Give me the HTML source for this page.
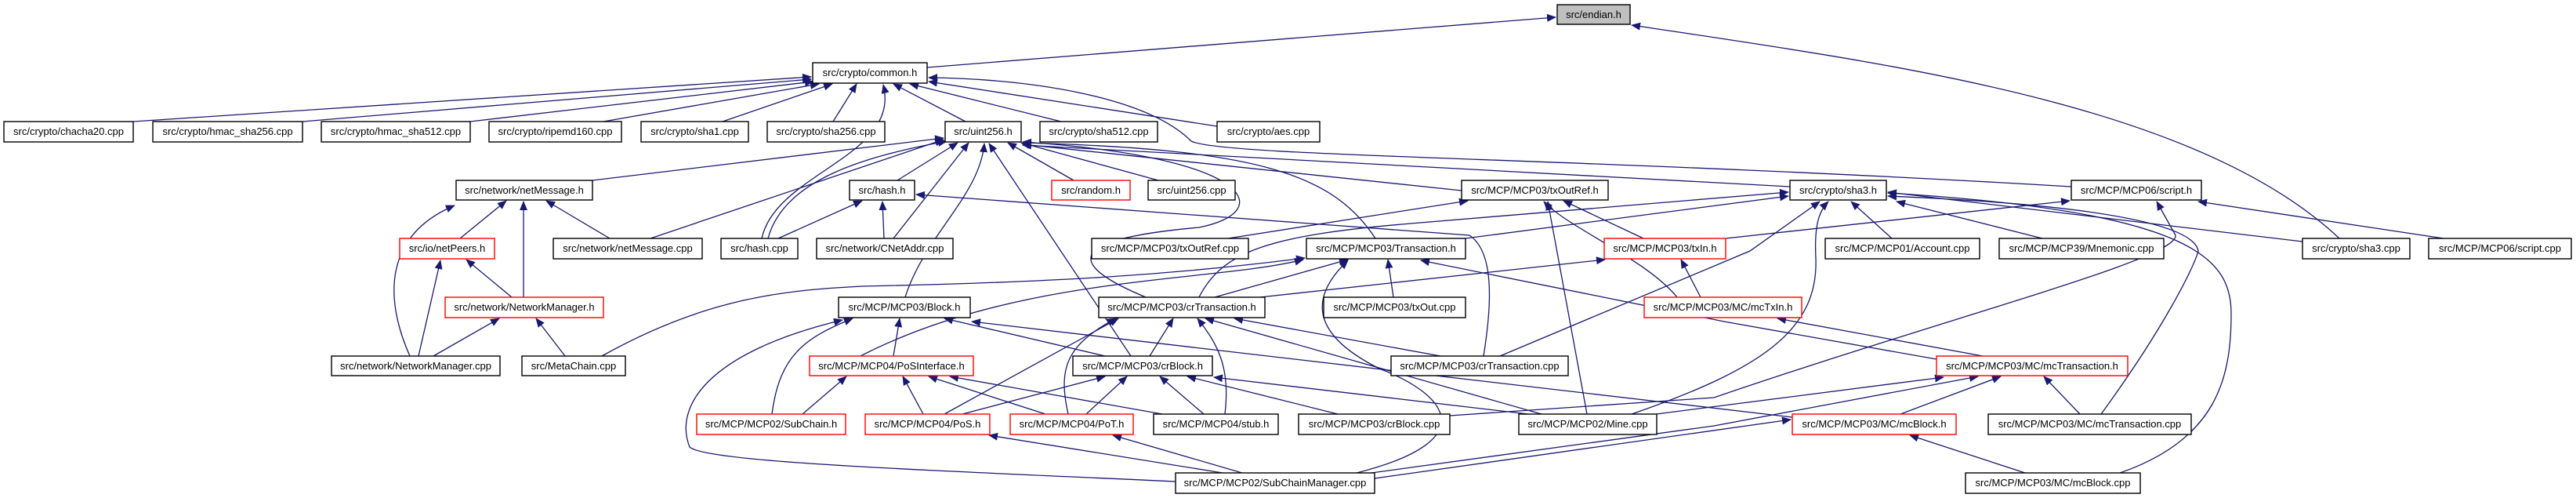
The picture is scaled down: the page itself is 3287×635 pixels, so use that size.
<!DOCTYPE html>
<html><head><meta charset="utf-8">
<style>
html,body{margin:0;padding:0;background:#fff;}
svg{display:block;}
text{font-family:"Liberation Sans",Arial,sans-serif;font-size:13px;fill:#000;}
.e{fill:none;stroke:#191970;stroke-width:1.3;marker-end:url(#a);}
.n{fill:#fff;stroke:#000;stroke-width:1.4;}
.r{fill:#fff;stroke:#ff0000;stroke-width:1.4;}
.s{fill:none;stroke:#555;stroke-width:1.5;}
</style></head><body>
<svg width="3287" height="635" viewBox="0 0 3287 635" xmlns="http://www.w3.org/2000/svg">
<defs><marker id="a" markerWidth="12" markerHeight="10" refX="11" refY="5" orient="auto" markerUnits="userSpaceOnUse"><path d="M0,0 L12,5 L0,10 z" fill="#191970"/></marker></defs>
<g>
<path class="e" d="M1183 86 L1985 22"/>
<path class="e" d="M2985 304 C2800 130 2400 80 2082 32"/>
<path class="e" d="M170 155 L1035 98"/>
<path class="e" d="M386 155 L1035 101"/>
<path class="e" d="M600 155 L1038 104"/>
<path class="e" d="M770 155 L1045 107"/>
<path class="e" d="M922 155 L1062 107"/>
<path class="e" d="M1063 155 L1093 107"/>
<path class="e" d="M1232 155 L1140 107"/>
<path class="e" d="M1354 155 L1161 107"/>
<path class="e" d="M1553 161 L1185 104"/>
<path class="e" d="M972 304 C990 220 1150 200 1127 108"/>
<path class="e" d="M2643 238 C2000 200 1560 200 1520 180 C1460 120 1300 100 1185 99"/>
<path class="e" d="M756 230 L1204 176"/>
<path class="e" d="M830 304 L1204 178"/>
<path class="e" d="M980 304 C1000 230 1100 200 1208 180"/>
<path class="e" d="M1145 230 L1222 182"/>
<path class="e" d="M1140 304 L1236 182"/>
<path class="e" d="M1155 379 C1180 300 1250 250 1256 183"/>
<path class="e" d="M1443 454 L1262 183"/>
<path class="e" d="M1370 230 L1286 182"/>
<path class="e" d="M1478 230 L1303 182"/>
<path class="e" d="M1462 379 C1320 320 1420 300 1530 290 C1630 270 1600 200 1305 181"/>
<path class="e" d="M1755 304 C1700 220 1600 190 1305 182"/>
<path class="e" d="M1865 243 L1305 184"/>
<path class="e" d="M2284 238 L1305 185"/>
<path class="e" d="M587 304 L646 256"/>
<path class="e" d="M668 379 L668 257"/>
<path class="e" d="M778 304 L697 256"/>
<path class="e" d="M523 454 C490 380 490 300 580 262"/>
<path class="e" d="M653 379 L595 331"/>
<path class="e" d="M534 454 L562 332"/>
<path class="e" d="M553 454 L637 406"/>
<path class="e" d="M721 454 L684 406"/>
<path class="e" d="M993 304 L1100 256"/>
<path class="e" d="M1128 304 L1126 257"/>
<path class="e" d="M1893 454 C1905 380 1905 320 1875 300 L1169 248"/>
<path class="e" d="M1567 304 L1873 256"/>
<path class="e" d="M2025 528 L1975 257"/>
<path class="e" d="M2140 379 C2100 330 2000 290 1970 257"/>
<path class="e" d="M2097 304 L1995 256"/>
<path class="e" d="M1530 379 C1560 320 1620 300 1800 285 L2282 245"/>
<path class="e" d="M1870 304 L2282 250"/>
<path class="e" d="M1914 454 L2233 320 L2322 257"/>
<path class="e" d="M2082 528 C2250 470 2320 420 2317 330 C2315 290 2320 270 2333 257"/>
<path class="e" d="M2414 304 L2362 257"/>
<path class="e" d="M2606 304 L2420 257"/>
<path class="e" d="M2938 308 L2409 245"/>
<path class="e" d="M2681 528 C2760 420 2800 340 2805 320 C2800 290 2700 262 2409 250"/>
<path class="e" d="M2705 603 C2830 560 2847 480 2847 400 C2847 330 2800 270 2409 246"/>
<path class="e" d="M2202 304 L2641 256"/>
<path class="e" d="M3118 304 L2805 257"/>
<path class="e" d="M1850 530 L2187 507 C2500 400 2780 330 2776 300 L2752 257"/>
<path class="e" d="M1550 379 L1720 331"/>
<path class="e" d="M1778 379 L1771 331"/>
<path class="e" d="M1098 454 C1300 350 1550 360 1663 331"/>
<path class="e" d="M768 454 C900 380 1000 370 1100 365 C1350 360 1500 350 1665 329"/>
<path class="e" d="M1731 603 C1900 560 1840 500 1760 470 C1660 420 1680 370 1720 332"/>
<path class="e" d="M2471 458 L2200 410 L1813 332"/>
<path class="e" d="M2170 379 L2145 331"/>
<path class="e" d="M1608 379 L2048 331"/>
<path class="e" d="M2530 454 L2268 406"/>
<path class="e" d="M1140 454 L1148 406"/>
<path class="e" d="M1410 454 L1205 406"/>
<path class="e" d="M985 528 C995 450 1030 430 1088 406"/>
<path class="e" d="M1500 614 C1200 600 900 590 880 570 C860 520 900 450 1075 408"/>
<path class="e" d="M2287 532 L1240 410"/>
<path class="e" d="M1467 454 L1497 406"/>
<path class="e" d="M1205 528 L1427 406"/>
<path class="e" d="M1363 528 C1350 470 1360 440 1424 406"/>
<path class="e" d="M1563 528 C1570 470 1555 440 1528 406"/>
<path class="e" d="M1967 528 L1538 406"/>
<path class="e" d="M1838 454 L1575 406"/>
<path class="e" d="M1024 528 L1080 480"/>
<path class="e" d="M1178 528 L1152 480"/>
<path class="e" d="M1334 528 L1185 480"/>
<path class="e" d="M1483 528 L1212 480"/>
<path class="e" d="M1228 528 L1410 480"/>
<path class="e" d="M1386 528 L1438 480"/>
<path class="e" d="M1536 528 L1480 480"/>
<path class="e" d="M1707 528 L1515 480"/>
<path class="e" d="M1967 530 L1549 481"/>
<path class="e" d="M2425 528 L2553 480"/>
<path class="e" d="M2654 528 L2608 480"/>
<path class="e" d="M1750 603 L2187 543 L2524 480"/>
<path class="e" d="M2082 532 L2480 481"/>
<path class="e" d="M2584 603 L2437 555"/>
<path class="e" d="M1754 610 L2285 535"/>
<path class="e" d="M1560 603 L1262 555"/>
<path class="e" d="M1585 603 L1420 555"/>
</g>
<g>
<rect x="1987" y="6" width="93" height="25" fill="#bfbfbf" stroke="#000" stroke-width="1.4"/><text x="2033.5" y="23" text-anchor="middle">src/endian.h</text>
<rect class="n" x="1037" y="80" width="146" height="26"/><text x="1110" y="97" text-anchor="middle">src/crypto/common.h</text>
<rect class="n" x="5" y="155" width="165" height="26"/><text x="87.5" y="172" text-anchor="middle">src/crypto/chacha20.cpp</text>
<rect class="n" x="195" y="155" width="191" height="26"/><text x="290.5" y="172" text-anchor="middle">src/crypto/hmac_sha256.cpp</text>
<rect class="n" x="410" y="155" width="190" height="26"/><text x="505" y="172" text-anchor="middle">src/crypto/hmac_sha512.cpp</text>
<rect class="n" x="624" y="155" width="169" height="26"/><text x="708.5" y="172" text-anchor="middle">src/crypto/ripemd160.cpp</text>
<rect class="n" x="818" y="155" width="137" height="26"/><text x="886.5" y="172" text-anchor="middle">src/crypto/sha1.cpp</text>
<rect class="n" x="979" y="155" width="150" height="26"/><text x="1054" y="172" text-anchor="middle">src/crypto/sha256.cpp</text>
<rect class="n" x="1206" y="155" width="97" height="26"/><text x="1254.5" y="172" text-anchor="middle">src/uint256.h</text>
<rect class="n" x="1327" y="155" width="150" height="26"/><text x="1402" y="172" text-anchor="middle">src/crypto/sha512.cpp</text>
<rect class="n" x="1553" y="155" width="131" height="26"/><text x="1618.5" y="172" text-anchor="middle">src/crypto/aes.cpp</text>

<rect class="n" x="582" y="230" width="174" height="25"/><text x="669" y="247" text-anchor="middle">src/network/netMessage.h</text>
<rect class="n" x="1084" y="230" width="83" height="25"/><text x="1125.5" y="247" text-anchor="middle">src/hash.h</text>
<rect class="r" x="1342" y="230" width="100" height="25"/><text x="1392" y="247" text-anchor="middle">src/random.h</text>
<rect class="n" x="1465" y="230" width="111" height="25"/><text x="1520.5" y="247" text-anchor="middle">src/uint256.cpp</text>
<rect class="n" x="1865" y="230" width="187" height="25"/><text x="1958.5" y="247" text-anchor="middle">src/MCP/MCP03/txOutRef.h</text>
<rect class="n" x="2284" y="230" width="123" height="25"/><text x="2345.5" y="247" text-anchor="middle">src/crypto/sha3.h</text>
<rect class="n" x="2643" y="230" width="166" height="25"/><text x="2726" y="247" text-anchor="middle">src/MCP/MCP06/script.h</text>

<rect class="r" x="510" y="304" width="121" height="26"/><text x="570.5" y="321" text-anchor="middle">src/io/netPeers.h</text>
<rect class="n" x="706" y="304" width="190" height="26"/><text x="801" y="321" text-anchor="middle">src/network/netMessage.cpp</text>
<rect class="n" x="920" y="304" width="98" height="26"/><text x="969" y="321" text-anchor="middle">src/hash.cpp</text>
<rect class="n" x="1042" y="304" width="174" height="26"/><text x="1129" y="321" text-anchor="middle">src/network/CNetAddr.cpp</text>
<rect class="n" x="1393" y="304" width="200" height="26"/><text x="1493" y="321" text-anchor="middle">src/MCP/MCP03/txOutRef.cpp</text>
<rect class="n" x="1667" y="304" width="203" height="26"/><text x="1768.5" y="321" text-anchor="middle">src/MCP/MCP03/Transaction.h</text>
<rect class="r" x="2047" y="304" width="155" height="26"/><text x="2124.5" y="321" text-anchor="middle">src/MCP/MCP03/txIn.h</text>
<rect class="n" x="2329" y="304" width="197" height="26"/><text x="2427.5" y="321" text-anchor="middle">src/MCP/MCP01/Account.cpp</text>
<rect class="n" x="2551" y="304" width="210" height="26"/><text x="2656" y="321" text-anchor="middle">src/MCP/MCP39/Mnemonic.cpp</text>
<rect class="n" x="2938" y="304" width="137" height="26"/><text x="3006.5" y="321" text-anchor="middle">src/crypto/sha3.cpp</text>
<rect class="n" x="3099" y="304" width="182" height="26"/><text x="3190" y="321" text-anchor="middle">src/MCP/MCP06/script.cpp</text>

<rect class="r" x="568" y="379" width="202" height="26"/><text x="669" y="396" text-anchor="middle">src/network/NetworkManager.h</text>
<rect class="n" x="1070" y="379" width="168" height="26"/><text x="1154" y="396" text-anchor="middle">src/MCP/MCP03/Block.h</text>
<rect class="n" x="1402" y="379" width="212" height="26"/><text x="1508" y="396" text-anchor="middle">src/MCP/MCP03/crTransaction.h</text>
<rect class="n" x="1689" y="379" width="181" height="26"/><text x="1779.5" y="396" text-anchor="middle">src/MCP/MCP03/txOut.cpp</text>
<rect class="r" x="2098" y="379" width="201" height="26"/><text x="2198.5" y="396" text-anchor="middle">src/MCP/MCP03/MC/mcTxIn.h</text>

<rect class="n" x="423" y="454" width="215" height="25"/><text x="530.5" y="471" text-anchor="middle">src/network/NetworkManager.cpp</text>
<rect class="n" x="666" y="454" width="132" height="25"/><text x="732" y="471" text-anchor="middle">src/MetaChain.cpp</text>
<rect class="r" x="1033" y="454" width="209" height="25"/><text x="1137.5" y="471" text-anchor="middle">src/MCP/MCP04/PoSInterface.h</text>
<rect class="n" x="1369" y="454" width="178" height="25"/><text x="1458" y="471" text-anchor="middle">src/MCP/MCP03/crBlock.h</text>
<rect class="n" x="1775" y="454" width="226" height="25"/><text x="1888" y="471" text-anchor="middle">src/MCP/MCP03/crTransaction.cpp</text>
<rect class="r" x="2471" y="454" width="244" height="25"/><text x="2593" y="471" text-anchor="middle">src/MCP/MCP03/MC/mcTransaction.h</text>

<rect class="r" x="889" y="528" width="190" height="26"/><text x="984" y="545" text-anchor="middle">src/MCP/MCP02/SubChain.h</text>
<rect class="r" x="1104" y="528" width="159" height="26"/><text x="1183.5" y="545" text-anchor="middle">src/MCP/MCP04/PoS.h</text>
<rect class="r" x="1289" y="528" width="157" height="26"/><text x="1367.5" y="545" text-anchor="middle">src/MCP/MCP04/PoT.h</text>
<rect class="n" x="1472" y="528" width="159" height="26"/><text x="1551.5" y="545" text-anchor="middle">src/MCP/MCP04/stub.h</text>
<rect class="n" x="1657" y="528" width="193" height="26"/><text x="1753.5" y="545" text-anchor="middle">src/MCP/MCP03/crBlock.cpp</text>
<rect class="n" x="1938" y="528" width="176" height="26"/><text x="2026" y="545" text-anchor="middle">src/MCP/MCP02/Mine.cpp</text>
<rect class="r" x="2287" y="528" width="209" height="26"/><text x="2391.5" y="545" text-anchor="middle">src/MCP/MCP03/MC/mcBlock.h</text>
<rect class="n" x="2537" y="528" width="259" height="26"/><text x="2666.5" y="545" text-anchor="middle">src/MCP/MCP03/MC/mcTransaction.cpp</text>

<rect class="n" x="1500" y="603" width="254" height="26"/><text x="1627" y="620" text-anchor="middle">src/MCP/MCP02/SubChainManager.cpp</text>
<rect class="n" x="2508" y="603" width="223" height="26"/><text x="2619.5" y="620" text-anchor="middle">src/MCP/MCP03/MC/mcBlock.cpp</text>
</g>
</svg>
</body></html>
